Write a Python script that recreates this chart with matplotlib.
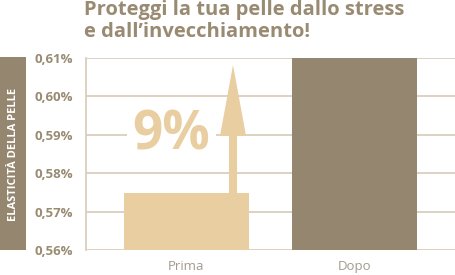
import matplotlib.pyplot as plt
from matplotlib.patches import Rectangle

# --- data ---
categories = ['Prima', 'Dopo']
values = [0.5748, 0.61]
ytick_values = [0.56, 0.57, 0.58, 0.59, 0.60, 0.61]
ytick_labels = ['0,56%', '0,57%', '0,58%', '0,59%', '0,60%', '0,61%']
increase_label = '9%'
arrow_top = 0.6082
title = 'Proteggi la tua pelle dallo stress\ne dall\u2019invecchiamento!'
ylabel = 'ELASTICIT\u00c0 DELLA PELLE'

# --- colours ---
LIGHT = '#e9cea2'
DARK = '#958670'
GRID = '#d8cbb8'
TEXT = '#998a72'
XTEXT = '#a39a8d'

plt.rcParams['font.family'] = ['Open Sans', 'DejaVu Sans']

W, H = 456, 275
fig = plt.figure(figsize=(W / 100, H / 100), dpi=100)
ax = fig.add_axes([86 / W, (H - 250) / H, (W - 86) / W, (250 - 58) / H])

x = list(range(len(categories)))
ax.bar(x, values, width=0.744, color=[LIGHT, DARK], zorder=2)

ax.set_ylim(ytick_values[0], ytick_values[-1])
ax.set_xlim(-0.598, 1.604)
ax.set_yticks(ytick_values)
ax.set_yticklabels(ytick_labels, fontsize=9.5, fontweight='bold', color=TEXT)
ax.set_xticks(x)
ax.set_xticklabels(categories, fontsize=9.5, color=XTEXT)
ax.tick_params(axis='both', length=0)
ax.tick_params(axis='y', pad=9)
ax.tick_params(axis='x', pad=7)
ax.yaxis.grid(True, color=GRID, linewidth=1.2, zorder=0)
ax.set_axisbelow(True)
for s in ['top', 'right', 'bottom']:
    ax.spines[s].set_visible(False)
ax.spines['left'].set_color(GRID)
ax.spines['left'].set_linewidth(1.2)

# arrow from the "Prima" bar up to the top (vertical, so widths are x units)
head_len = 0.0185
ax.arrow(0.277, values[0], 0, arrow_top - values[0] - head_len,
         width=0.048, head_width=0.155, head_length=head_len,
         length_includes_head=False, color=LIGHT, linewidth=0, zorder=3)

ax.text(-0.09, 0.5897, increase_label, fontsize=38, fontweight='bold', color=LIGHT,
        ha='center', va='center', zorder=3,
        bbox=dict(boxstyle='square,pad=0.1', facecolor='white', edgecolor='none'))

# y label box
ax.add_patch(Rectangle((-86 / 370, 0), 26 / 370, 1.005, transform=ax.transAxes,
                       facecolor=DARK, edgecolor='none', clip_on=False))
ax.text(-72.5 / 370, 0.5, ylabel, transform=ax.transAxes, rotation=90,
        ha='center', va='center', fontsize=8, fontweight='bold', color='white')

fig.text(84 / W, 1 - 0 / H, title, ha='left', va='top', fontsize=14.5,
         fontweight='bold', color=TEXT, linespacing=1.15)

fig.savefig('out.png', dpi=100)
